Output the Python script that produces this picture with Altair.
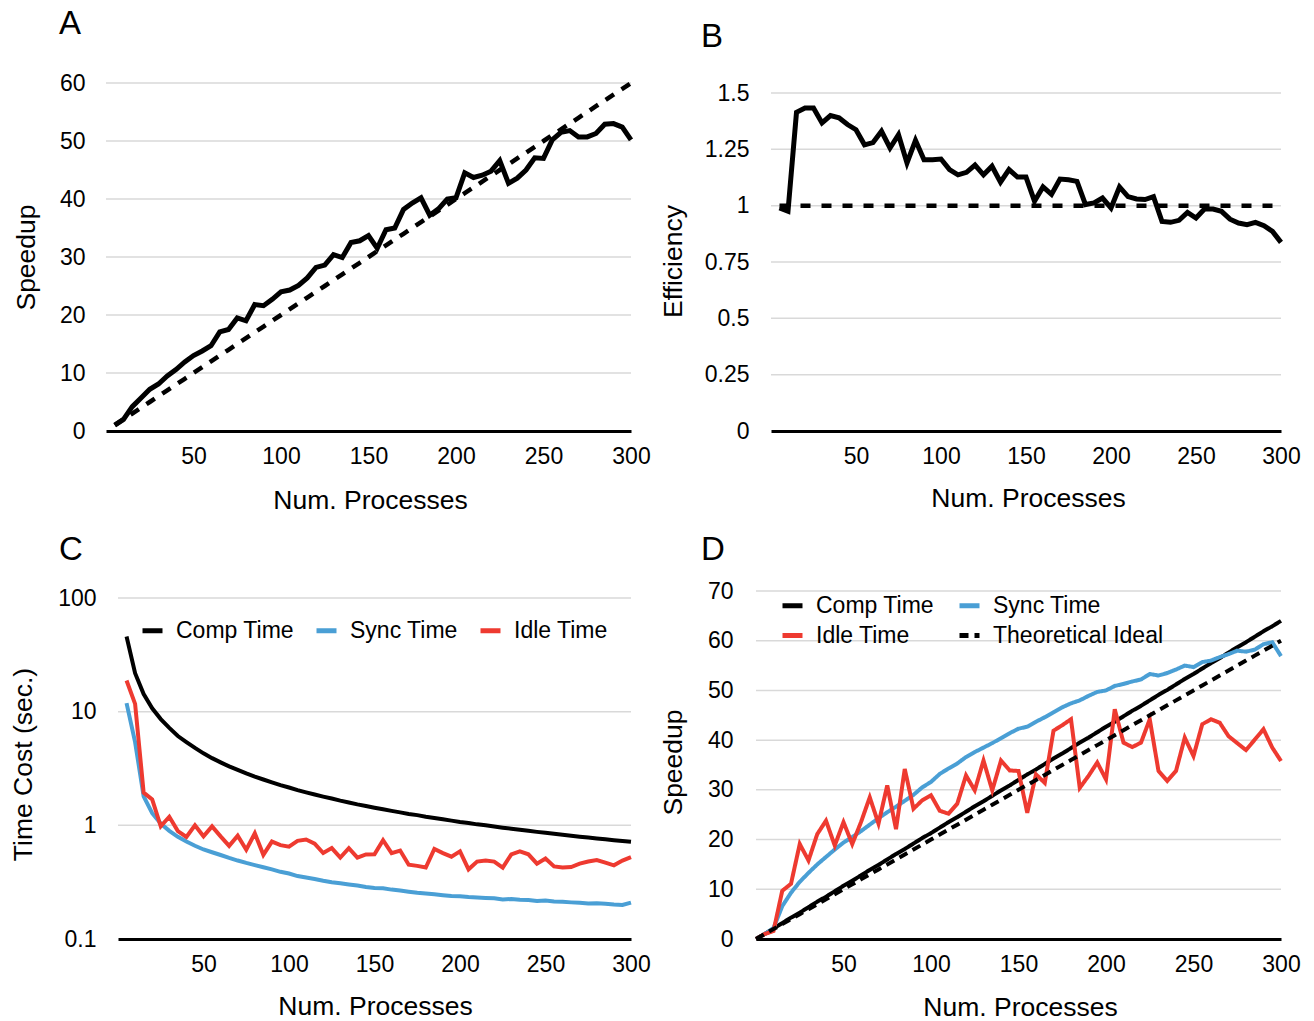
import altair as alt
import pandas as pd

FONT = "Liberation Sans"
GRID = "#d9d9d9"
BLUE = "#4A9FD5"
RED = "#EE3A30"

# ---------------- data ----------------
procs = [5, 10, 15, 20, 25, 30, 35, 40, 45, 50, 55, 60, 65, 70, 75, 80, 85, 90, 95, 100,
         105, 110, 115, 120, 125, 130, 135, 140, 145, 150, 155, 160, 165, 170, 175, 180, 185, 190, 195, 200,
         205, 210, 215, 220, 225, 230, 235, 240, 245, 250, 255, 260, 265, 270, 275, 280, 285, 290, 295, 300]
procs_d = [0] + procs

speedup_a = [1.0, 2.0, 4.2, 5.7, 7.2, 8.1, 9.5, 10.6, 11.9, 13.0, 13.8, 14.7, 17.1, 17.5, 19.5, 19.0, 21.8, 21.6, 22.7, 24.0,
             24.3, 25.1, 26.4, 28.2, 28.6, 30.4, 29.9, 32.5, 32.8, 33.7, 31.5, 34.7, 35.0, 38.2, 39.3, 40.2, 37.2, 38.3, 40.0, 40.2,
             44.5, 43.7, 44.1, 44.8, 46.6, 42.7, 43.6, 45.0, 47.1, 47.0, 50.2, 51.5, 51.8, 50.7, 50.7, 51.3, 52.9, 53.0, 52.4, 50.2]
ideal_a = [1, 2, 3, 4, 5, 6, 7, 8, 9, 10, 11, 12, 13, 14, 15, 16, 17, 18, 19, 20,
           21, 22, 23, 24, 25, 26, 27, 28, 29, 30, 31, 32, 33, 34, 35, 36, 37, 38, 39, 40,
           41, 42, 43, 44, 45, 46, 47, 48, 49, 50, 51, 52, 53, 54, 55, 56, 57, 58, 59, 60]

eff_b = [0.99, 0.975, 1.414, 1.433, 1.433, 1.367, 1.40, 1.39, 1.36, 1.337, 1.27, 1.28, 1.33, 1.256, 1.315, 1.19, 1.29, 1.204, 1.204, 1.207,
         1.16, 1.137, 1.148, 1.18, 1.137, 1.175, 1.104, 1.16, 1.127, 1.127, 1.02, 1.083, 1.05, 1.118, 1.115, 1.108, 1.005, 1.012, 1.034, 0.99,
         1.083, 1.04, 1.03, 1.027, 1.04, 0.93, 0.926, 0.935, 0.97, 0.945, 0.985, 0.985, 0.975, 0.94, 0.923, 0.916, 0.926, 0.911, 0.886, 0.837]
ideal_b = [1.0] * len(procs)

comp_c = [45.8, 21.8, 14.3, 10.7, 8.6, 7.2, 6.1, 5.4, 4.8, 4.3, 3.9, 3.58, 3.3, 3.07, 2.86, 2.68, 2.53, 2.39, 2.26, 2.15,
          2.04, 1.95, 1.87, 1.79, 1.72, 1.65, 1.59, 1.53, 1.48, 1.43, 1.385, 1.34, 1.30, 1.26, 1.23, 1.19, 1.16, 1.13, 1.10, 1.07,
          1.05, 1.02, 1.0, 0.976, 0.954, 0.933, 0.914, 0.895, 0.876, 0.859, 0.842, 0.826, 0.81, 0.795, 0.781, 0.767, 0.753, 0.74, 0.728, 0.716]
sync_c = [11.9, 5.4, 1.80, 1.28, 1.035, 0.895, 0.793, 0.721, 0.661, 0.613, 0.580, 0.548, 0.517, 0.490, 0.467, 0.447, 0.428, 0.410, 0.390, 0.377,
          0.358, 0.347, 0.337, 0.325, 0.316, 0.309, 0.302, 0.295, 0.287, 0.281, 0.279, 0.272, 0.267, 0.261, 0.255, 0.251, 0.248, 0.243, 0.239, 0.238,
          0.234, 0.232, 0.230, 0.228, 0.223, 0.225, 0.222, 0.220, 0.216, 0.218, 0.214, 0.2125, 0.210, 0.208, 0.205, 0.206, 0.2045, 0.201, 0.199, 0.209]
idle_c = [18.8, 11.7, 1.94, 1.69, 0.98, 1.19, 0.89, 0.79, 1.0, 0.80, 0.98, 0.80, 0.66, 0.81, 0.61, 0.85, 0.55, 0.72, 0.67, 0.65,
          0.73, 0.75, 0.69, 0.57, 0.63, 0.52, 0.63, 0.52, 0.555, 0.556, 0.74, 0.57, 0.60, 0.45, 0.44, 0.425, 0.62, 0.57, 0.53, 0.59,
          0.41, 0.48, 0.49, 0.48, 0.425, 0.556, 0.59, 0.556, 0.46, 0.51, 0.435, 0.425, 0.43, 0.46, 0.48, 0.495, 0.47, 0.445, 0.49, 0.525]

comp_d = [0, 1.0, 2.1, 3.2, 4.3, 5.3, 6.4, 7.5, 8.5, 9.6, 10.7, 11.7, 12.8, 13.9, 14.9, 16.0, 17.1, 18.1, 19.2, 20.3, 21.3,
          22.4, 23.5, 24.5, 25.6, 26.7, 27.7, 28.8, 29.9, 30.9, 32.0, 33.1, 34.1, 35.2, 36.3, 37.3, 38.4, 39.5, 40.5, 41.6, 42.7,
          43.7, 44.8, 45.9, 46.9, 48.0, 49.1, 50.1, 51.2, 52.3, 53.3, 54.4, 55.5, 56.5, 57.6, 58.7, 59.7, 60.8, 61.9, 62.9, 64.0]
sync_d = [0, 1.0, 2.2, 6.6, 9.3, 11.5, 13.3, 15.0, 16.5, 18.0, 19.4, 20.5, 21.7, 23.0, 24.3, 25.5, 26.6, 27.8, 29.0, 30.5, 31.6,
          33.2, 34.3, 35.3, 36.6, 37.6, 38.5, 39.4, 40.4, 41.4, 42.3, 42.7, 43.7, 44.6, 45.6, 46.6, 47.4, 48.0, 48.9, 49.7, 50.0,
          50.9, 51.3, 51.8, 52.2, 53.3, 53.0, 53.5, 54.2, 55.0, 54.7, 55.7, 56.0, 56.7, 57.3, 58.0, 57.8, 58.2, 59.3, 59.7, 56.9]
idle_d = [0, 1.0, 1.6, 9.7, 11.1, 19.1, 15.8, 21.1, 23.8, 18.8, 23.5, 19.1, 23.5, 28.5, 23.2, 30.9, 22.1, 34.2, 26.2, 27.9, 28.9,
          25.8, 25.2, 27.2, 32.9, 29.9, 35.9, 29.9, 35.9, 33.9, 33.8, 25.4, 33.1, 31.4, 41.9, 43.0, 44.2, 30.4, 32.8, 35.5, 32.1,
          46.2, 39.5, 38.6, 39.5, 44.2, 33.8, 31.8, 33.8, 40.5, 36.8, 43.2, 44.2, 43.5, 40.8, 39.4, 38.0, 40.1, 42.2, 38.5, 35.8]
ideal_d = [0, 1, 2, 3, 4, 5, 6, 7, 8, 9, 10, 11, 12, 13, 14, 15, 16, 17, 18, 19, 20,
           21, 22, 23, 24, 25, 26, 27, 28, 29, 30, 31, 32, 33, 34, 35, 36, 37, 38, 39, 40,
           41, 42, 43, 44, 45, 46, 47, 48, 49, 50, 51, 52, 53, 54, 55, 56, 57, 58, 59, 60]

x_ticks = [50, 100, 150, 200, 250, 300]
a_ticks = [0, 10, 20, 30, 40, 50, 60]
b_ticks = [0, 0.25, 0.5, 0.75, 1, 1.25, 1.5]
c_ticks = [0.1, 1, 10, 100]
d_ticks = [0, 10, 20, 30, 40, 50, 60, 70]

series_c = ["Comp Time", "Sync Time", "Idle Time"]
series_d = ["Comp Time", "Sync Time", "Idle Time", "Theoretical Ideal"]

W, H = 525, 348
TITLE_SIZE = 26.5


def xenc(field, r0, tx, ty):
    return alt.X(field, type="quantitative",
                 scale=alt.Scale(domain=[0, 300], range=[r0, W], nice=False, zero=False),
                 axis=alt.Axis(values=x_ticks, grid=False, domain=True, domainColor="black",
                               domainWidth=3, ticks=False, labelPadding=14, labelFontSize=23,
                               labelFont=FONT, labelColor="black", labelFlush=False,
                               labelOverlap=False, title="Num. Processes", titleFont=FONT,
                               titleFontSize=TITLE_SIZE, titleFontWeight="normal",
                               titleColor="black", titleX=tx, titleY=ty, titleAlign="center",
                               titleBaseline="middle", zindex=1))


def yenc(field, scale, ticks, title, tx, ty, pad, off):
    return alt.Y(field, type="quantitative", scale=scale,
                 axis=alt.Axis(values=ticks, labelExpr="datum.value + ''", grid=False,
                               domain=False, ticks=False,
                               labelPadding=pad, labelFontSize=23, labelFont=FONT,
                               labelColor="black", labelOverlap=False, labelFlush=False,
                               title=title, titleFont=FONT, titleFontSize=TITLE_SIZE,
                               titleFontWeight="normal", titleColor="black", titleAngle=270,
                               titleX=tx, titleY=ty, titleAlign="center", titleBaseline="middle",
                               offset=off))


def panel_title(letter, dx, dy):
    return alt.TitleParams(letter, anchor="start", frame="group", dx=dx, dy=dy, offset=0,
                           fontSize=33, font=FONT, fontWeight="normal", color="black",
                           baseline="alphabetic")


def grid(vals, X, Y):
    gdf = pd.DataFrame({"g": vals, "x0": [0] * len(vals), "x1": [300] * len(vals)})
    return alt.Chart(gdf).mark_rule(color=GRID, strokeWidth=1.5).encode(
        x=X("x0"), x2="x1:Q", y=Y("g"))


def make_legend(x, y, cols, colpad):
    return alt.Legend(orient="none", legendX=x, legendY=y, direction="horizontal", columns=cols,
                      symbolType="stroke", symbolSize=400, symbolStrokeWidth=5,
                      labelFontSize=23, labelFont=FONT, labelColor="black", labelOffset=11,
                      columnPadding=colpad, rowPadding=5, padding=0, labelLimit=0, title=None)


# ---------------- Panel A ----------------
df_a = pd.DataFrame({"p": procs, "speedup": speedup_a, "ideal": ideal_a})
XA = lambda f: xenc(f, 0, 264, 69)
YA = lambda f: yenc(f, alt.Scale(domain=[0, 60], range=[H, 0], nice=False), a_ticks,
                    "Speedup", -80, 174, 21, 0)
panel_a = alt.layer(
    grid(a_ticks[1:], XA, YA),
    alt.Chart(df_a).mark_line(color="black", strokeWidth=4.5, strokeDash=[10, 9]).encode(
        x=XA("p"), y=YA("ideal")),
    alt.Chart(df_a).mark_line(color="black", strokeWidth=5).encode(
        x=XA("p"), y=YA("speedup")),
).properties(width=W, height=H, title=panel_title("A", -47, -5))

# ---------------- Panel B ----------------
df_b = pd.DataFrame({"p": procs, "eff": eff_b, "ideal": ideal_b})
XB = lambda f: xenc(f, 15, 272, 67)
YB = lambda f: yenc(f, alt.Scale(domain=[0, 1.5], range=[H, 10], nice=False), b_ticks,
                    "Efficiency", -98, 178, 22, -15)
panel_b = alt.layer(
    grid(b_ticks[1:], XB, YB),
    alt.Chart(df_b).mark_line(color="black", strokeWidth=4.5, strokeDash=[10, 11]).encode(
        x=XB("p"), y=YB("ideal")),
    alt.Chart(df_b).mark_line(color="black", strokeWidth=5).encode(
        x=XB("p"), y=YB("eff")),
).properties(width=W, height=H, title=panel_title("B", -55, -2))

# ---------------- Panel C ----------------
df_c = pd.DataFrame({"p": procs, "Comp Time": comp_c, "Sync Time": sync_c, "Idle Time": idle_c})
XC = lambda f: xenc(f, 12, 269, 67)
YC = lambda f: yenc(f, alt.Scale(type="log", domain=[0.1, 100], range=[H, 7], nice=False),
                    c_ticks, "Time Cost (sec.)", -95, 173, 22, -12)
color_c = alt.Color("series:N", scale=alt.Scale(domain=series_c, range=["black", BLUE, RED]),
                    legend=make_legend(34, 27, 3, 12))
base_c = alt.Chart(df_c).transform_fold(series_c, as_=["series", "val"])
layers_c = [grid(c_ticks[1:], XC, YC)]
for s in series_c:
    layers_c.append(base_c.transform_filter(alt.datum.series == s).mark_line(strokeWidth=4).encode(
        x=XC("p"), y=YC("val"), color=color_c))
panel_c = alt.layer(*layers_c).properties(width=W, height=H, title=panel_title("C", -47, 6))

# ---------------- Panel D ----------------
df_d = pd.DataFrame({"p": procs_d, "Comp Time": comp_d, "Sync Time": sync_d,
                     "Idle Time": idle_d, "Theoretical Ideal": ideal_d})
XD = lambda f: xenc(f, 0, 264, 68)
YD = lambda f: yenc(f, alt.Scale(domain=[0, 70], range=[H, 0], nice=False), d_ticks,
                    "Speedup", -83, 171, 23, 0)
legend_d = make_legend(24, 2, 2, 15)
color_d = alt.Color("series:N", scale=alt.Scale(domain=series_d, range=["black", BLUE, RED, "black"]),
                    legend=legend_d)
dash_d = alt.StrokeDash("series:N", scale=alt.Scale(domain=series_d,
                                                    range=[[1, 0], [1, 0], [1, 0], [9, 6]]),
                        legend=legend_d)
base_d = alt.Chart(df_d).transform_fold(series_d, as_=["series", "val"])
layers_d = [grid(d_ticks[1:], XD, YD)]
for s in series_d:
    layers_d.append(base_d.transform_filter(alt.datum.series == s).mark_line(strokeWidth=4).encode(
        x=XD("p"), y=YD("val"), color=color_d, strokeDash=dash_d))
panel_d = alt.layer(*layers_d).properties(width=W, height=H, title=panel_title("D", -55, 13))

# ---------------- layout ----------------
chart = alt.concat(
    panel_a, panel_b, panel_c, panel_d, columns=2,
    spacing={"row": 160, "column": 125}, bounds="flush",
).resolve_scale(
    color="independent", strokeDash="independent"
).resolve_legend(
    color="independent", strokeDash="independent"
).properties(
    padding={"left": 10, "top": 8, "right": 5, "bottom": 5},
    background="white",
).configure_view(strokeWidth=0)

chart.save("out.html", embed_options={"renderer": "svg", "actions": False})
